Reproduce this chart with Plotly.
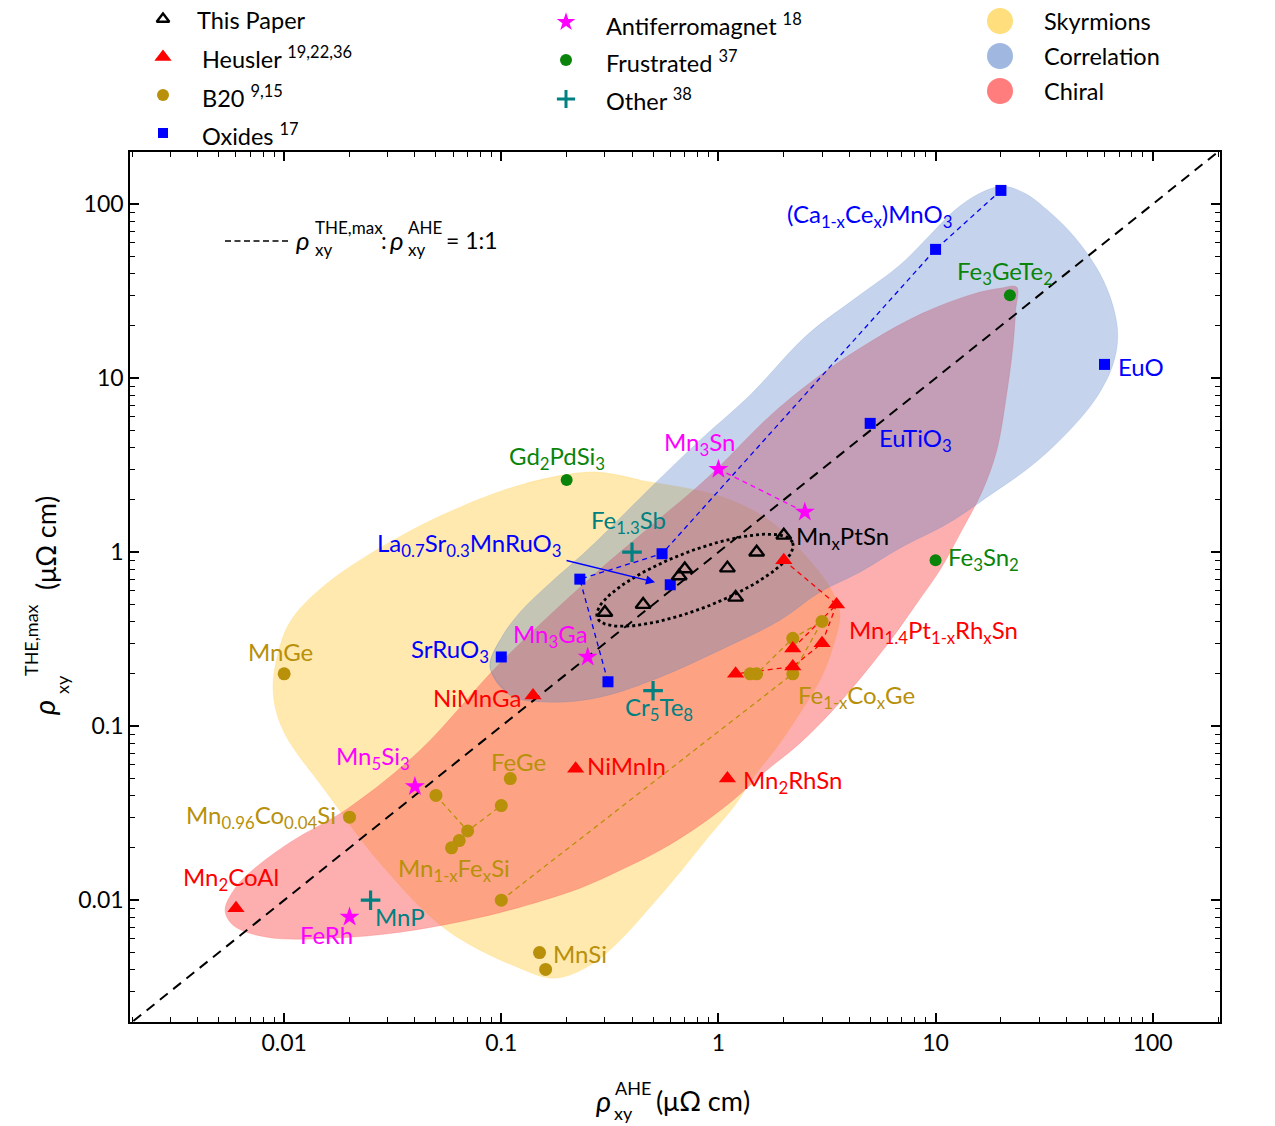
import numpy as np
import plotly.graph_objects as go

# ---------------- data (µΩ cm) ----------------
this_paper_ahe = [0.30, 0.45, 0.66, 0.70, 1.1, 1.2, 1.5, 2.0]
this_paper_the = [0.45, 0.50, 0.73, 0.80, 0.81, 0.55, 1.0, 1.25]

heusler_ahe = [0.006, 0.14, 0.22, 1.1, 2.0, 3.5, 3.0, 2.2, 2.2, 1.2]
heusler_the = [0.009, 0.15, 0.057, 0.05, 0.9, 0.5, 0.30, 0.28, 0.22, 0.20]
heusler_links = [[4, 5, 7], [5, 6, 8, 9]]

b20_ahe = [0.01, 0.02, 0.05, 0.07, 0.064, 0.059, 0.10, 0.11, 0.10, 0.15, 0.16, 1.4, 1.5, 2.2, 3.0, 2.2]
b20_the = [0.20, 0.030, 0.040, 0.025, 0.022, 0.020, 0.035, 0.050, 0.010, 0.005, 0.004, 0.20, 0.20, 0.32, 0.40, 0.20]
b20_links = [[2, 3, 6], [8, 15, 14, 13, 12]]

oxide_ahe = [20, 10, 0.55, 0.23, 0.31, 0.60, 0.10, 5.0, 60]
oxide_the = [120, 55, 0.98, 0.70, 0.18, 0.65, 0.25, 5.5, 12]
oxide_links = [[0, 1, 2, 3, 4]]

afm_ahe = [1.0, 2.5, 0.25, 0.04, 0.02]
afm_the = [3.0, 1.7, 0.25, 0.045, 0.008]
afm_links = [[0, 1]]

frustrated_ahe = [0.2, 22, 10]
frustrated_the = [2.6, 30, 0.9]

other_ahe = [0.4, 0.5, 0.025]
other_the = [1.0, 0.16, 0.01]

one_to_one = [1e-3, 1e3]

# region outlines (log10 of µΩ cm)
skyrmion_lx = [-0.578, -0.361, 0.021, 0.251, 0.407, 0.513, 0.559, 0.527, 0.467, 0.375, 0.269, 0.168,
               0.076, -0.039, -0.177, -0.315, -0.453, -0.591, -0.753, -0.914, -1.250, -1.558, -1.802,
               -2.005, -2.051, -2.018, -1.959, -1.802, -1.498, -1.190, -0.881]
skyrmion_ly = [0.460, 0.414, 0.316, 0.167, -0.029, -0.201, -0.351, -0.546, -0.736, -0.925, -1.121, -1.282,
               -1.454, -1.626, -1.839, -2.040, -2.230, -2.374, -2.448, -2.391, -2.172, -1.787, -1.385,
               -1.023, -0.793, -0.534, -0.374, -0.178, 0.069, 0.259, 0.397]

correlation_lx = [-1.052, -1.006, -0.914, -0.776, -0.605, -0.301, -0.085, 0.145, 0.407, 0.638, 0.835, 0.974,
                  1.089, 1.204, 1.310, 1.411, 1.526, 1.641, 1.756, 1.816, 1.839, 1.816, 1.733, 1.595, 1.434,
                  1.250, 1.066, 0.835, 0.651, 0.467, 0.283, 0.007, -0.269, -0.545, -0.776, -0.960]
correlation_ly = [-0.661, -0.506, -0.345, -0.178, 0.011, 0.385, 0.644, 0.902, 1.247, 1.466, 1.649, 1.822,
                  1.966, 2.063, 2.103, 2.063, 1.954, 1.810, 1.603, 1.420, 1.247, 1.075, 0.874, 0.672, 0.489,
                  0.328, 0.172, 0.023, -0.115, -0.230, -0.391, -0.563, -0.718, -0.833, -0.862, -0.822]

chiral_lx = [1.374, 1.369, 1.356, 1.328, 1.282, 1.217, 1.121, 1.020, 0.914, 0.803, 0.684, 0.527, 0.375, 0.223,
             0.067, -0.085, -0.269, -0.453, -0.638, -0.914, -1.158, -1.466, -1.774, -2.078, -2.235, -2.272,
             -2.226, -2.157, -1.972, -1.705, -1.374, -1.006, -0.591, -0.301, -0.053, 0.251, 0.481, 0.711,
             0.941, 1.171, 1.296, 1.374]
chiral_ly = [1.523, 1.391, 1.178, 0.914, 0.586, 0.356, 0.126, -0.103, -0.293, -0.489, -0.678, -0.908, -1.098,
             -1.253, -1.425, -1.569, -1.713, -1.828, -1.931, -2.040, -2.115, -2.184, -2.218, -2.213, -2.144,
             -2.057, -1.931, -1.839, -1.667, -1.471, -1.138, -0.638, -0.149, 0.161, 0.425, 0.799, 1.029,
             1.218, 1.374, 1.483, 1.517, 1.523]

# ---------------- layout geometry ----------------
W, H = 1275, 1126
ML, MR, MT, MB = 130, 55, 5, 104
PW, PH = W - ML - MR, H - MT - MB
MAIN_TOP = 152
YDOM_TOP = (H - MB - MAIN_TOP) / PH
LEG_DOM0 = YDOM_TOP + 0.006
LEG_BOTTOM_PX = H - MB - LEG_DOM0 * PH
X_RANGE = [-2.71, 2.31]
Y_RANGE = [-2.70, 2.30]
FONT = "Lato, 'Open Sans', 'DejaVu Sans', sans-serif"
LABEL_SIZE = 24

GOLD = "#B8900A"
TEAL = "#008080"
GREEN = "#0A840A"


def paper(px, py):
    return (px - ML) / PW, (H - MB - py) / PH


fig = go.Figure()


def region(lx, ly, color, wrap=True):
    x = [10 ** v for v in lx]
    y = [10 ** v for v in ly]
    if wrap:
        x = [x[-1]] + x + x[:2]
        y = [y[-1]] + y + y[:2]
    fig.add_trace(go.Scatter(x=x, y=y, mode="lines", fill="toself", fillcolor=color,
                             line=dict(width=0.5, shape="spline", smoothing=1.0, color=color),
                             hoverinfo="skip", showlegend=False))


region(skyrmion_lx, skyrmion_ly, "rgba(255,215,110,0.55)")
region(chiral_lx, chiral_ly, "rgba(250,78,78,0.45)", wrap=False)
region(correlation_lx, correlation_ly, "rgba(80,123,197,0.33)")

# 1:1 line
fig.add_trace(go.Scatter(x=one_to_one, y=one_to_one, mode="lines",
                         line=dict(color="black", width=2, dash="10px,7px"),
                         hoverinfo="skip", showlegend=False))

# dotted ellipse around this-paper points (log space)
ell_c = (-0.108, -0.161)
ell_a = (0.450, 0.215)
ell_b = (0.047, -0.155)
t = np.linspace(0, 2 * np.pi, 121)
ex = ell_c[0] + np.cos(t) * ell_a[0] + np.sin(t) * ell_b[0]
ey = ell_c[1] + np.cos(t) * ell_a[1] + np.sin(t) * ell_b[1]
fig.add_trace(go.Scatter(x=list(10 ** ex), y=list(10 ** ey), mode="lines",
                         line=dict(color="black", width=2.8, dash="dot"),
                         hoverinfo="skip", showlegend=False))


def links(xs, ys, groups, color):
    lx, ly = [], []
    for g in groups:
        for i in g:
            lx.append(xs[i])
            ly.append(ys[i])
        lx.append(None)
        ly.append(None)
    fig.add_trace(go.Scatter(x=lx, y=ly, mode="lines", line=dict(color=color, width=1.3, dash="5px,4px"),
                             hoverinfo="skip", showlegend=False, connectgaps=False))


links(oxide_ahe, oxide_the, oxide_links, "#0000FF")
links(afm_ahe, afm_the, afm_links, "#FF00FF")
links(heusler_ahe, heusler_the, heusler_links, "#FF0000")
links(b20_ahe, b20_the, b20_links, GOLD)


def markers(xs, ys, symbol, size, color, lw=0, lcolor=None, name=""):
    fig.add_trace(go.Scatter(x=xs, y=ys, mode="markers", name=name,
                             marker=dict(symbol=symbol, size=size, color=color,
                                         line=dict(width=lw, color=lcolor or color)),
                             showlegend=False))


markers(b20_ahe, b20_the, "circle", 13, GOLD, name="B20")
markers(heusler_ahe, heusler_the, "triangle-up", 15, "#FF0000", name="Heusler")
markers(oxide_ahe, oxide_the, "square", 11, "#0000FF", name="Oxides")
markers(afm_ahe, afm_the, "star", 15, "#FF00FF", name="Antiferromagnet")
markers(frustrated_ahe, frustrated_the, "circle", 12, GREEN, name="Frustrated")
markers(other_ahe, other_the, "cross-thin", 14, TEAL, lw=3.2, lcolor=TEAL, name="Other")
markers(this_paper_ahe, this_paper_the, "triangle-up-open", 13, "black", lw=2.4, lcolor="black",
        name="This Paper")

# ---------------- labels (text, log x, log y, colour, anchor) ----------------
labels = [
    ("(Ca<sub>1-x</sub>Ce<sub>x</sub>)MnO<sub>3</sub>", 0.306, 1.935, "#0000FF", "left"),
    ("Fe<sub>3</sub>GeTe<sub>2</sub>", 1.089, 1.605, GREEN, "left"),
    ("EuO", 1.830, 1.069, "#0000FF", "left"),
    ("EuTiO<sub>3</sub>", 0.730, 0.645, "#0000FF", "left"),
    ("Mn<sub>3</sub>Sn", -0.260, 0.622, "#FF00FF", "left"),
    ("Gd<sub>2</sub>PdSi<sub>3</sub>", -0.974, 0.542, GREEN, "left"),
    ("Fe<sub>1.3</sub>Sb", -0.596, 0.174, TEAL, "left"),
    ("La<sub>0.7</sub>Sr<sub>0.3</sub>MnRuO<sub>3</sub>", -0.711, 0.042, "#0000FF", "right"),
    ("Mn<sub>x</sub>PtSn", 0.348, 0.082, "black", "left"),
    ("Fe<sub>3</sub>Sn<sub>2</sub>", 1.047, -0.039, GREEN, "left"),
    ("Mn<sub>1.4</sub>Pt<sub>1-x</sub>Rh<sub>x</sub>Sn", 0.591, -0.458, "#FF0000", "left"),
    ("Mn<sub>3</sub>Ga", -0.955, -0.476, "#FF00FF", "left"),
    ("SrRuO<sub>3</sub>", -1.047, -0.567, "#0000FF", "right"),
    ("MnGe", -2.175, -0.569, GOLD, "left"),
    ("NiMnGa", -0.900, -0.833, "#FF0000", "right"),
    ("Fe<sub>1-x</sub>Co<sub>x</sub>Ge", 0.357, -0.832, GOLD, "left"),
    ("Cr<sub>5</sub>Te<sub>8</sub>", -0.440, -0.901, TEAL, "left"),
    ("Mn<sub>5</sub>Si<sub>3</sub>", -1.770, -1.182, "#FF00FF", "left"),
    ("FeGe", -1.056, -1.201, GOLD, "left"),
    ("NiMnIn", -0.614, -1.224, "#FF0000", "left"),
    ("Mn<sub>2</sub>RhSn", 0.104, -1.320, "#FF0000", "left"),
    ("Mn<sub>0.96</sub>Co<sub>0.04</sub>Si", -1.751, -1.521, GOLD, "right"),
    ("Mn<sub>1-x</sub>Fe<sub>x</sub>Si", -1.484, -1.826, GOLD, "left"),
    ("Mn<sub>2</sub>CoAl", -2.474, -1.878, "#FF0000", "left"),
    ("MnP", -1.590, -2.092, TEAL, "left"),
    ("FeRh", -1.936, -2.195, "#FF00FF", "left"),
    ("MnSi", -0.771, -2.305, GOLD, "left"),
]

ann = []
for text, lx, ly, col, anchor in labels:
    ann.append(dict(text=text, x=lx, y=ly, xref="x", yref="y", xanchor=anchor, yanchor="middle",
                    showarrow=False, font=dict(family=FONT, size=LABEL_SIZE, color=col)))

# arrow for La0.7Sr0.3MnRuO3
ann.append(dict(text="", x=-0.292, y=-0.172, xref="x", yref="y", showarrow=True, ax=-90, ay=-22,
                arrowhead=2, arrowsize=1.3, arrowwidth=1.4, arrowcolor="#0000FF"))


def ptext(text, px, py, size, color="black", xanchor="left", angle=0):
    x, y = paper(px, py)
    ann.append(dict(text=text, x=x, y=y, xref="paper", yref="paper", xanchor=xanchor, yanchor="middle",
                    showarrow=False, textangle=angle, font=dict(family=FONT, size=size, color=color)))


# 1:1 legend text
ptext("<i>ρ</i>", 294, 240, 26)
ptext("THE,max", 313, 228, 17)
ptext("xy", 313, 249, 17)
ptext(":", 379, 240, 23)
ptext("<i>ρ</i>", 388, 240, 26)
ptext("AHE", 406, 228, 17)
ptext("xy", 406, 249, 17)
ptext("= 1:1", 444, 240, 23)

# axis titles
ptext("<i>ρ</i>", 594, 1100, 29)
ptext("AHE", 613, 1088, 18)
ptext("xy", 612, 1113, 18)
ptext("(μΩ cm)", 654, 1100, 27)

ptext("<i>ρ</i>", 44, 708, 29, xanchor="center", angle=-90)
ptext("THE,max", 31, 640, 18, xanchor="center", angle=-90)
ptext("xy", 62, 685, 18, xanchor="center", angle=-90)
ptext("(μΩ cm)", 45, 543, 27, xanchor="center", angle=-90)

# legend texts
legend_items = [
    ("This Paper", 195, 20), ("Heusler <sup>19,22,36</sup>", 200, 58), ("B20 <sup>9,15</sup>", 200, 96),
    ("Oxides <sup>17</sup>", 200, 134), ("Antiferromagnet <sup>18</sup>", 604, 24),
    ("Frustrated <sup>37</sup>", 604, 61), ("Other <sup>38</sup>", 604, 99),
    ("Skyrmions", 1042, 21), ("Correlation", 1042, 56), ("Chiral", 1042, 91),
]
for text, px, py in legend_items:
    ptext(text, px, py, 23.5)


# legend markers on a pixel-mapped axis in the strip above the plot
def lmark(px, py, symbol, size, color, lw=0, lcolor=None):
    fig.add_trace(go.Scatter(x=[px], y=[py], xaxis="x2", yaxis="y2", mode="markers", cliponaxis=False,
                             marker=dict(symbol=symbol, size=size, color=color,
                                         line=dict(width=lw, color=lcolor or color)),
                             hoverinfo="skip", showlegend=False))


lmark(163, 19, "triangle-up-open", 11, "black", lw=2.4, lcolor="black")
lmark(163, 57, "triangle-up", 15, "#FF0000")
lmark(163, 95, "circle", 12, GOLD)
lmark(163, 133, "square", 10, "#0000FF")
lmark(566, 22, "star", 14, "#FF00FF")
lmark(566, 60, "circle", 12, GREEN)
lmark(566, 99, "cross-thin", 13, TEAL, lw=3, lcolor=TEAL)
lmark(1000, 21, "circle", 26, "rgb(255,222,125)")
lmark(1000, 56, "circle", 26, "rgb(160,184,224)")
lmark(1000, 91, "circle", 26, "rgb(255,125,125)")

# empty trace so the minor-tick overlay axes are drawn
fig.add_trace(go.Scatter(x=[], y=[], xaxis="x3", yaxis="y3", mode="markers",
                         hoverinfo="skip", showlegend=False))

# dashed sample line of the 1:1 legend
lx0, ly0 = paper(225, 241)
lx1, _ = paper(289, 241)
shapes = [dict(type="line", xref="paper", yref="paper", x0=lx0, x1=lx1, y0=ly0, y1=ly0,
               line=dict(color="black", width=1.6, dash="6px,3.5px"))]

minor_vals = [k * 10.0 ** d for d in range(-3, 3) for k in range(2, 10)]
major_vals = [0.01, 0.1, 1, 10, 100]
major_text = ["0.01", "0.1", "1", "10", "100"]

base_axis = dict(type="log", tickmode="array", ticks="inside", tickcolor="black",
                 showline=True, linewidth=1.6, linecolor="black", mirror="ticks",
                 showgrid=False, zeroline=False, fixedrange=True)
major_axis = dict(base_axis, tickvals=major_vals, ticktext=major_text, ticklen=9, tickwidth=1.5,
                  tickfont=dict(family=FONT, size=23, color="black"))
minor_axis = dict(base_axis, tickvals=minor_vals, ticktext=[""] * len(minor_vals), ticklen=5,
                  tickwidth=1.2, showticklabels=False)

fig.update_layout(
    width=W, height=H,
    margin=dict(l=ML, r=MR, t=MT, b=MB),
    paper_bgcolor="white", plot_bgcolor="white",
    showlegend=False,
    xaxis=dict(major_axis, range=X_RANGE, domain=[0, 1], anchor="y"),
    yaxis=dict(major_axis, range=Y_RANGE, domain=[0, YDOM_TOP], anchor="x"),
    xaxis3=dict(minor_axis, range=X_RANGE, overlaying="x", anchor="y3", side="bottom"),
    yaxis3=dict(minor_axis, range=Y_RANGE, overlaying="y", anchor="x3", side="left"),
    xaxis2=dict(range=[ML, ML + PW], domain=[0, 1], anchor="y2", visible=False, fixedrange=True),
    yaxis2=dict(range=[LEG_BOTTOM_PX, MT], domain=[LEG_DOM0, 1], anchor="x2", visible=False,
                fixedrange=True),
    annotations=ann,
    shapes=shapes,
    font=dict(family=FONT),
)

fig.write_html("out.html", config={"displayModeBar": False},
               post_script="document.body.style.margin='0';")
